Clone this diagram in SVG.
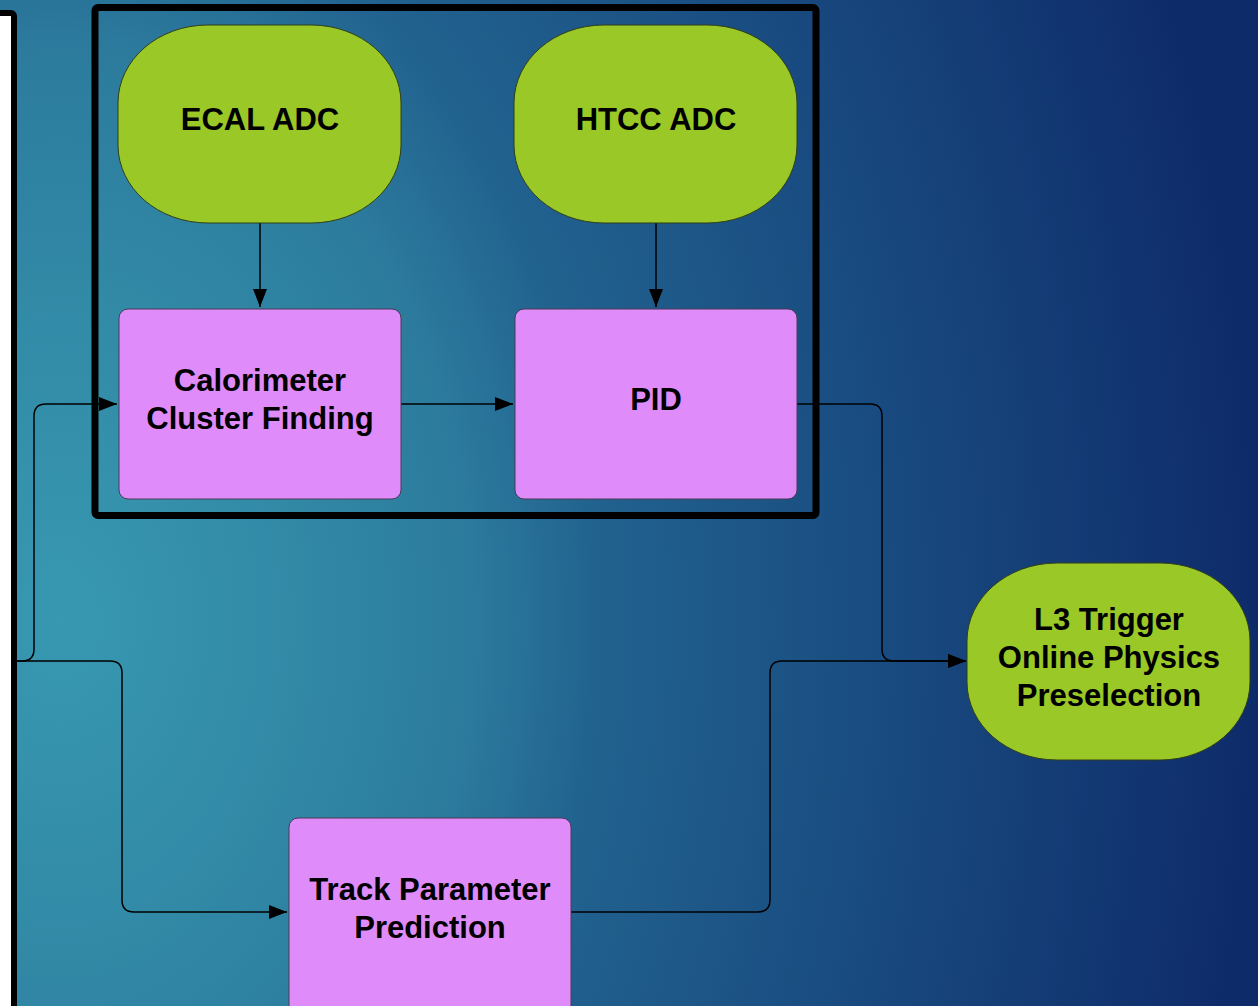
<svg xmlns="http://www.w3.org/2000/svg" width="1258" height="1006" viewBox="0 0 1258 1006">
<defs>
<radialGradient id="bg" gradientUnits="userSpaceOnUse" cx="60" cy="620" r="1200" gradientTransform="translate(60 620) scale(1 1.4) translate(-60 -620)">
<stop offset="0" stop-color="#3898b1"/>
<stop offset="0.2" stop-color="#3189a6"/>
<stop offset="0.34" stop-color="#2c7b9d"/>
<stop offset="0.45" stop-color="#21628f"/>
<stop offset="0.66" stop-color="#1a4e82"/>
<stop offset="1" stop-color="#0e2b69"/>
</radialGradient>
<marker id="arr" markerUnits="userSpaceOnUse" markerWidth="19" markerHeight="15" refX="18" refY="7" orient="auto">
<path d="M0,0 L18,7 L0,14 z" fill="#000"/>
</marker>
<style>
.conn{fill:none;stroke:#000;stroke-width:1.5}
.term{fill:#9ac826;stroke:#2f3d1a;stroke-width:1}
.proc{fill:#df8cfa;stroke:#4a3a55;stroke-width:1}
.lbl{font-family:"Liberation Sans",Arial,sans-serif;font-weight:bold;font-size:31px;fill:#000;text-anchor:middle}
</style>
</defs>
<rect x="0" y="0" width="1258" height="1006" fill="url(#bg)"/>
<rect x="-186" y="13" width="200" height="1100" rx="3" fill="#fff" stroke="#000" stroke-width="6"/>
<rect id="frame" x="95" y="7.5" width="721" height="508" rx="3" fill="none" stroke="#000" stroke-width="7"/>
<g id="connectors">
<path class="conn" d="M260,223 V307" marker-end="url(#arr)"/>
<path class="conn" d="M656,223 V307" marker-end="url(#arr)"/>
<path class="conn" d="M401,404 H513" marker-end="url(#arr)"/>
<path class="conn" d="M17,661 H22 Q34,661 34,649 V416 Q34,404 46,404 H117" marker-end="url(#arr)"/>
<path class="conn" d="M17,661 H110 Q122,661 122,673 V900 Q122,912 134,912 H287" marker-end="url(#arr)"/>
<path class="conn" d="M797,404 H870 Q882,404 882,416 V649 Q882,661 894,661 H966" marker-end="url(#arr)"/>
<path class="conn" d="M571,912 H758 Q770,912 770,900 V673 Q770,661 782,661 H966" marker-end="url(#arr)"/>
</g>
<g id="ecal">
<path class="term" d="M208,25 H311 C361,25 401,60 401,103 V145 C401,188 361,223 311,223 H208 C158,223 118,188 118,145 V103 C118,60 158,25 208,25 Z"/>
<text class="lbl" x="260" y="130">ECAL ADC</text>
</g>
<g id="htcc">
<path class="term" d="M604,25 H707 C757,25 797,60 797,103 V145 C797,188 757,223 707,223 H604 C554,223 514,188 514,145 V103 C514,60 554,25 604,25 Z"/>
<text class="lbl" x="656" y="130">HTCC ADC</text>
</g>
<g id="calo">
<rect class="proc" x="119" y="309" width="282" height="190" rx="9"/>
<text class="lbl" x="260" y="391">Calorimeter</text>
<text class="lbl" x="260" y="429">Cluster Finding</text>
</g>
<g id="pid">
<rect class="proc" x="515" y="309" width="282" height="190" rx="9"/>
<text class="lbl" x="656" y="410">PID</text>
</g>
<g id="track">
<rect class="proc" x="289" y="818" width="282" height="200" rx="9"/>
<text class="lbl" x="430" y="900">Track Parameter</text>
<text class="lbl" x="430" y="938">Prediction</text>
</g>
<g id="l3">
<path class="term" d="M1057,563 H1160 C1210,563 1250,598 1250,641 V682 C1250,725 1210,760 1160,760 H1057 C1007,760 967,725 967,682 V641 C967,598 1007,563 1057,563 Z"/>
<text class="lbl" x="1109" y="630">L3 Trigger</text>
<text class="lbl" x="1109" y="668">Online Physics</text>
<text class="lbl" x="1109" y="706">Preselection</text>
</g>
</svg>
